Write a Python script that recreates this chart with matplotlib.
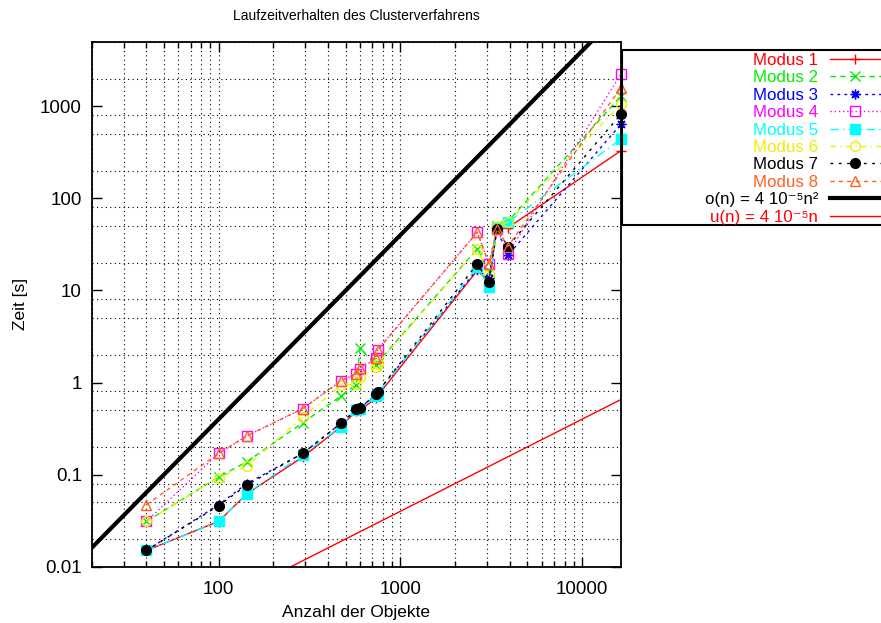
import matplotlib
matplotlib.use("Agg")
import matplotlib.pyplot as plt
from matplotlib.lines import Line2D
from matplotlib.patches import Rectangle
from matplotlib.ticker import LogLocator, FixedFormatter, FixedLocator, NullFormatter
import numpy as np

plt.rcParams['font.family'] = ['Liberation Sans', 'DejaVu Sans']
plt.rcParams['mathtext.default'] = 'regular'

# Data
n_obj = [40, 100, 143, 290, 470, 570, 600, 735, 750, 2650, 3070, 3400, 3900, 16384]

modus_1 = [0.015, 0.031, 0.062, 0.155, 0.33, 0.49, 0.50, 0.68, 0.72, 16.5, 12.5, 47, 48, 331]
modus_2 = [0.031, 0.094, 0.138, 0.365, 0.71, 0.95, 2.35, 1.55, 1.65, 28.4, 16, 50, 56, 1300]
modus_3 = [0.015, 0.047, 0.080, 0.17, 0.36, 0.50, 0.53, 0.74, 0.79, 17, 13.5, 46, 24, 644]
modus_4 = [0.031, 0.17, 0.264, 0.52, 1.04, 1.25, 1.42, 1.83, 2.28, 43, 19.5, 47, 25, 2245]
modus_5 = [0.015, 0.031, 0.062, 0.165, 0.33, 0.50, 0.52, 0.72, 0.76, 18, 11, 48, 55, 443]
modus_6 = [0.031, 0.093, 0.124, 0.42, 0.93, 0.97, 1.15, 1.48, 1.6, 28, 15, 50, 55, 1060]
modus_7 = [0.015, 0.046, 0.077, 0.17, 0.36, 0.51, 0.53, 0.75, 0.79, 19.5, 12.3, 47, 30, 826]
modus_8 = [0.047, 0.17, 0.264, 0.52, 1.04, 1.25, 1.45, 1.85, 2.25, 43, 19.5, 47, 30, 1600]

series = [modus_1, modus_2, modus_3, modus_4, modus_5, modus_6, modus_7, modus_8]
labels = ["Modus 1", "Modus 2", "Modus 3", "Modus 4", "Modus 5", "Modus 6", "Modus 7", "Modus 8"]
colors = ["#ff0000", "#00ee00", "#0000ff", "#ff00ff", "#00ffff", "#eeee00", "#000000", "#ff6020"]
markers = ["+", "x", (8, 2, 0), "s", "s", "o", "o", "^"]
filled = [True, True, True, False, True, False, True, False]
styles = ["-", (0, (4, 3)), (0, (2, 3)), (0, (1, 2)), (0, (6, 3, 1, 3)), (0, (4, 3, 1, 3)), (0, (2, 4)), (0, (3, 3))]

# bound functions o(n) and u(n)
n_fun = np.array([20, 16384])
c_fun = 4e-5

W, H = 881, 623
fig = plt.figure(figsize=(W / 100, H / 100), dpi=100)
ax = fig.add_axes([0.104, 0.0904, 0.601, 0.8422])

entries = []
for y, lab, c, m, f, ls in zip(series, labels, colors, markers, filled, styles):
    kw = dict(linestyle=ls, color=c, lw=1, marker=m, ms=7, mew=1,
              mfc=c if f else 'none', mec=c)
    ax.plot(n_obj, y, clip_on=False, **kw)
    entries.append((lab, c, kw))

kw_o = dict(color='black', lw=3)
kw_u = dict(color='red', lw=1)
ax.plot(n_fun, c_fun * n_fun ** 2, **kw_o)
ax.plot(n_fun, c_fun * n_fun, **kw_u)
entries.append(("o(n) = 4 10\u207b\u2075n\u00b2", 'black', kw_o))
entries.append(("u(n) = 4 10\u207b\u2075n", 'red', kw_u))

ax.set_xscale('log')
ax.set_yscale('log')
ax.set_xlim(20, 16384)
ax.set_ylim(0.01, 5000)

ax.xaxis.set_major_locator(FixedLocator([100, 1000, 10000]))
ax.xaxis.set_major_formatter(FixedFormatter(["100", "1000", "10000"]))
ax.xaxis.set_minor_locator(LogLocator(base=10, subs=np.arange(2, 10), numticks=20))
ax.xaxis.set_minor_formatter(NullFormatter())
ax.yaxis.set_major_locator(FixedLocator([0.01, 0.1, 1, 10, 100, 1000]))
ax.yaxis.set_major_formatter(FixedFormatter(["0.01", "0.1", "1", "10", "100", "1000"]))
ax.yaxis.set_minor_locator(LogLocator(base=10, subs=[2, 5, 8], numticks=20))
ax.yaxis.set_minor_formatter(NullFormatter())

ax.tick_params(which='both', direction='in', top=True, right=True, labelsize=13.5, width=1)
ax.tick_params(which='major', length=7, pad=10)
ax.tick_params(which='minor', length=4)
ax.tick_params(axis='y', which='minor', length=0)
ax.tick_params(axis='y', which='major', pad=7)

ax.grid(True, axis='x', which='both', linestyle=(0, (1, 3)), color='black', lw=0.8)
ax.grid(True, axis='y', which='minor', linestyle=(0, (1, 3)), color='black', lw=0.8)
ax.grid(False, axis='y', which='major')
for s in ax.spines.values():
    s.set_linewidth(1.3)

ax.set_xlabel("Anzahl der Objekte", fontsize=12.5, labelpad=5)
ax.set_ylabel("Zeit [s]", fontsize=12.5, labelpad=9)
fig.text(0.405, 0.975, "Laufzeitverhalten des Clusterverfahrens", ha='center', va='center', fontsize=10)

# key box outside the plot, right side cut by the figure edge like the original
fig.patches.append(Rectangle((622 / W, 1 - 225 / H), (900 - 622) / W, (225 - 50) / H,
                             transform=fig.transFigure, facecolor='none',
                             edgecolor='black', lw=1.5))
for i, (lab, c, kw) in enumerate(entries):
    yy = 1 - (59 + 17.4 * i) / H
    fig.text(818 / W, yy, lab, color=c, fontsize=12.2, ha='right', va='center_baseline')
    lk = dict(kw)
    lk.pop('marker', None)
    fig.lines.append(Line2D([830 / W, 885 / W], [yy, yy], transform=fig.transFigure, **lk))
    if 'marker' in kw:
        fig.lines.append(Line2D([855 / W], [yy], transform=fig.transFigure,
                                linestyle='none', marker=kw['marker'], ms=7, mew=1,
                                mfc=kw['mfc'], mec=kw['mec']))

fig.savefig("out.png", dpi=100)
